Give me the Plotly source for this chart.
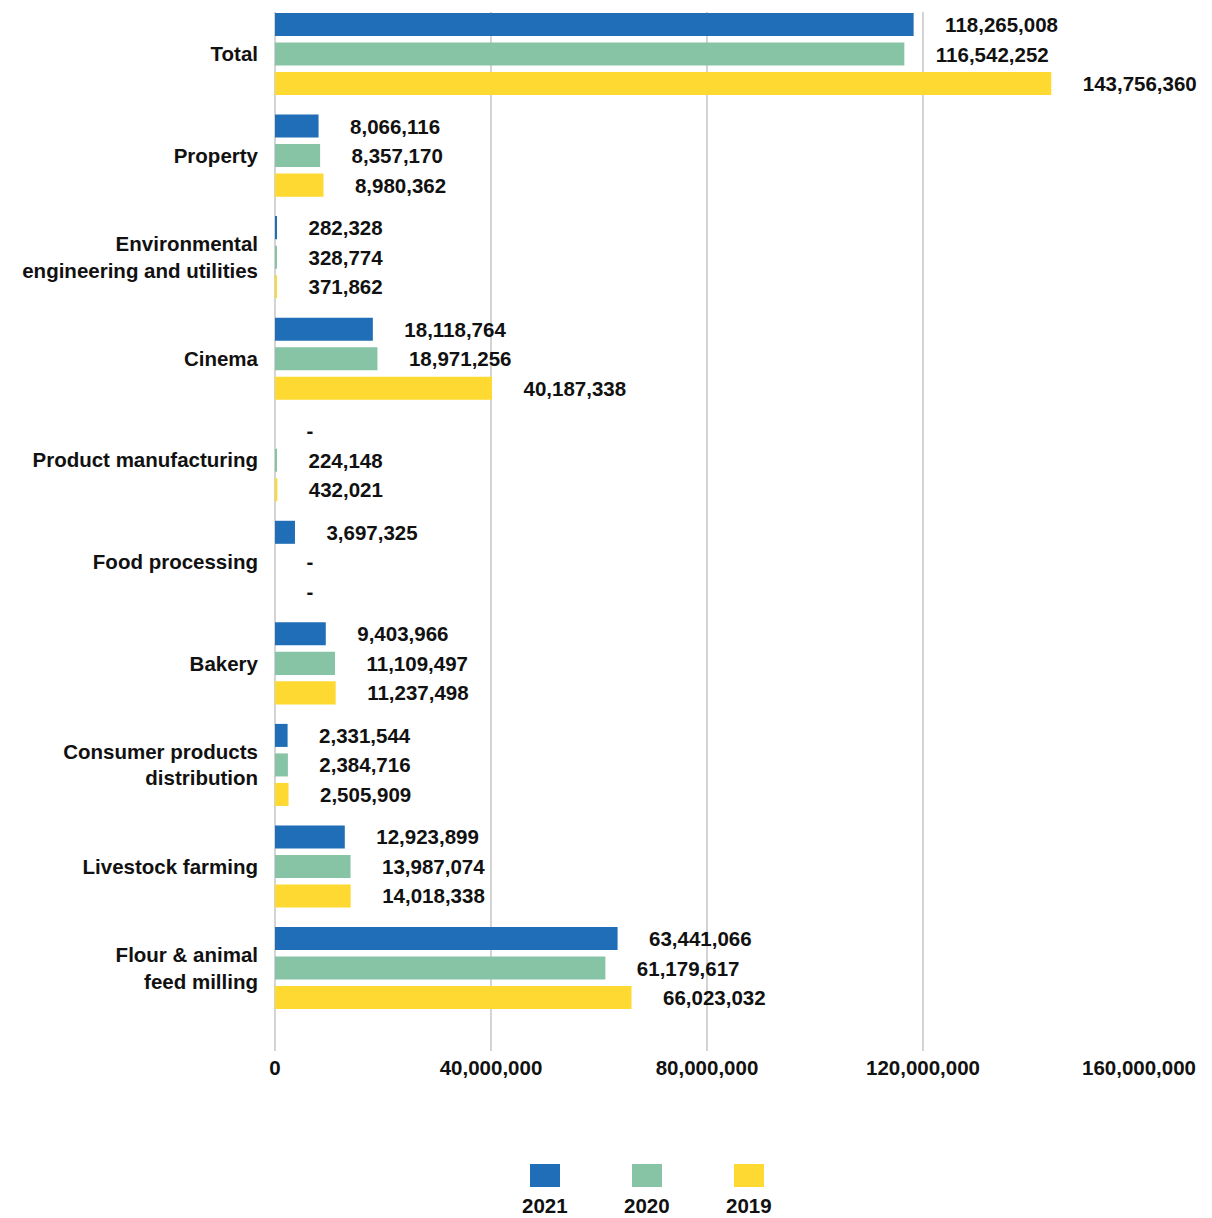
import plotly.graph_objects as go

categories = [
    "Total",
    "Property",
    "Environmental<br>engineering and utilities",
    "Cinema",
    "Product manufacturing",
    "Food processing",
    "Bakery",
    "Consumer products<br>distribution",
    "Livestock farming",
    "Flour & animal<br>feed milling",
]

series_names = ["2021", "2020", "2019"]
values_2021 = [118265008, 8066116, 282328, 18118764, 0, 3697325, 9403966, 2331544, 12923899, 63441066]
values_2020 = [116542252, 8357170, 328774, 18971256, 224148, 0, 11109497, 2384716, 13987074, 61179617]
values_2019 = [143756360, 8980362, 371862, 40187338, 432021, 0, 11237498, 2505909, 14018338, 66023032]
series_values = [values_2021, values_2020, values_2019]
series_colors = ["#1f6eb7", "#86c4a5", "#fdd931"]

x_ticks = [0, 40000000, 80000000, 120000000, 160000000]

FONT = "Liberation Sans, Arial, sans-serif"
FS = 20.5
W, H = 1212, 1218
ML, MR, MT, MB = 275, 73, 12, 167
PW, PH = W - ML - MR, H - MT - MB

def fmt(v):
    return "-" if v == 0 else f"{v:,}"

pad = "\u00a0" * 5

fig = go.Figure()
for name, vals, color in zip(series_names, series_values, series_colors):
    fig.add_trace(go.Bar(
        name=name,
        y=categories,
        x=vals,
        orientation="h",
        marker=dict(color=color, line=dict(width=0)),
        text=[pad + fmt(v) for v in vals],
        textposition="outside",
        textfont=dict(family=FONT, size=FS, color="#111111"),
        constraintext="none",
        cliponaxis=False,
        showlegend=False,
    ))

# legend keys: coloured square with the year underneath
def px_x(p):
    return (p - ML) / PW

def px_y(p):
    return (H - MB - p) / PH

shapes = []
annotations = []
for i, (name, color) in enumerate(zip(series_names, series_colors)):
    cx = 545 + i * 102
    shapes.append(dict(
        type="rect", xref="paper", yref="paper",
        x0=px_x(cx - 15), x1=px_x(cx + 15), y0=px_y(1187), y1=px_y(1164),
        fillcolor=color, line=dict(width=0),
    ))
    annotations.append(dict(
        xref="paper", yref="paper", x=px_x(cx), y=px_y(1205),
        text=f"<b>{name}</b>", showarrow=False, xanchor="center", yanchor="middle",
        font=dict(family=FONT, size=FS, color="#111111"),
    ))

fig.update_layout(
    width=W, height=H,
    margin=dict(l=ML, r=MR, t=MT, b=MB, pad=0),
    paper_bgcolor="white", plot_bgcolor="white",
    barmode="group",
    bargap=0.128,
    bargroupgap=0.22,
    font=dict(family=FONT, size=FS, color="#111111", weight="bold"),
    shapes=shapes,
    annotations=annotations,
    showlegend=False,
)
fig.update_xaxes(
    range=[0, 160000000],
    tickvals=x_ticks,
    ticktext=[f"{t:,}" for t in x_ticks],
    tickfont=dict(family=FONT, size=FS, color="#111111", weight="bold"),
    showgrid=True, gridcolor="#d4d4d4", gridwidth=1.5,
    zeroline=True, zerolinecolor="#d4d4d4", zerolinewidth=1.5,
    showline=False, ticks="",
    ticklabelstandoff=2,
    fixedrange=True,
)
fig.update_yaxes(
    range=[9.817, -0.414],
    tickfont=dict(family=FONT, size=FS, color="#111111", weight="bold"),
    showgrid=False, showline=False, ticks="",
    ticklabelstandoff=16,
    fixedrange=True,
)

fig.write_html("out.html")
